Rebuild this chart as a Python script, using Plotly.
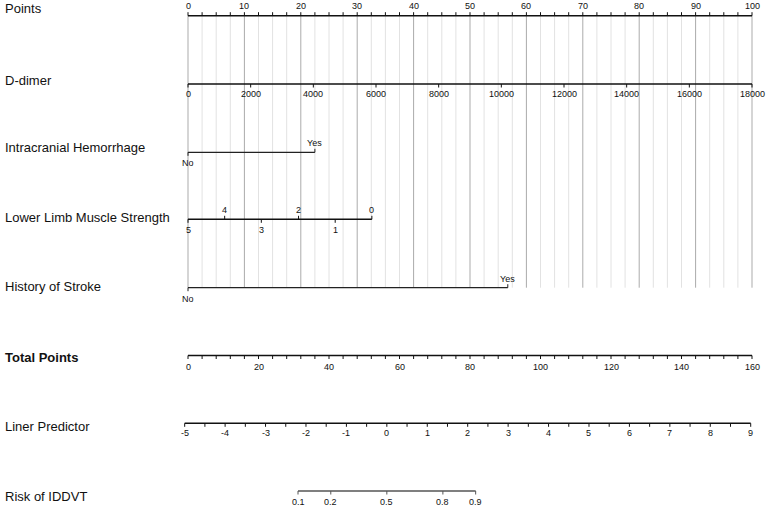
import numpy as np
import plotly.graph_objects as go

# ---------------- data ----------------
points_major = list(range(0, 101, 10))
points_minor = [i * 2.5 for i in range(41)]

ddimer_ticks = list(range(0, 18001, 2000))
ddimer_max = 18000          # value that earns 100 points

ich_levels = ["No", "Yes"]
ich_points = [0.0, 22.5]
ich_side = ["below", "above"]

llms_levels = ["5", "4", "3", "2", "1", "0"]
llms_points = [0.0, 6.5, 13.0, 19.6, 26.1, 32.6]
llms_side = ["below", "above", "below", "above", "below", "above"]

stroke_levels = ["No", "Yes"]
stroke_points = [0.0, 56.7]
stroke_side = ["below", "above"]

total_major = list(range(0, 161, 20))
total_minor = list(range(0, 161, 4))
total_max = 160

lp_major = list(range(-5, 10))
lp_minor = [-5 + 0.5 * i for i in range(29)]
lp_at_total0 = -4.918
lp_at_totalmax = 9.032

risk_ticks = [0.1, 0.2, 0.5, 0.8, 0.9]

row_names = ["Points", "D-dimer", "Intracranial Hemorrhage", "Lower Limb Muscle Strength",
             "History of Stroke", "Total Points", "Liner Predictor", "Risk of IDDVT"]

# ---------------- layout constants ----------------
W, H = 767, 509
PX0, PX100 = 188.0, 752.0
scale = (PX100 - PX0) / 100.0
xr = [(0 - PX0) / scale, (W - PX0) / scale]

ROW = dict(points=15.7, ddimer=84.0, ich=152.3, llms=219.3, stroke=287.7,
           total=355.5, lp=423.3, risk=491.0)
LABEL_Y = [8.5, 80.0, 147.7, 217.7, 286.7, 357.3, 426.7, 496.7]
FONT = "Arial, Liberation Sans, sans-serif"


def total_to_x(t):
    return t * 100.0 / total_max


def lp_to_x(lp):
    t = (lp - lp_at_total0) / (lp_at_totalmax - lp_at_total0) * total_max
    return total_to_x(t)


def logit(p):
    return np.log(p / (1 - p))


fig = go.Figure()
annotations = []


def seg_trace(xs, y0, y1, color, width):
    X, Y = [], []
    for x in xs:
        X += [x, x, None]
        Y += [y0, y1, None]
    fig.add_trace(go.Scatter(x=X, y=Y, mode="lines", line=dict(color=color, width=width),
                             hoverinfo="skip", showlegend=False))


def hline(x0, x1, y, color="#111", width=1.5):
    fig.add_trace(go.Scatter(x=[x0, x1], y=[y, y], mode="lines",
                             line=dict(color=color, width=width),
                             hoverinfo="skip", showlegend=False))


def label(x, y, text, size=9):
    annotations.append(dict(x=x, y=y, xref="x", yref="y", text=text, showarrow=False,
                            xanchor="center", yanchor="middle",
                            font=dict(family=FONT, size=size, color="#111")))


# gridlines
grid_top, grid_bot = ROW["points"], ROW["stroke"]
seg_trace([p for p in points_minor if p % 10 != 0], grid_top, grid_bot, "#e2e2e2", 1)
seg_trace(points_major, grid_top, grid_bot, "#ababab", 1)

# Points axis (ticks up, labels above)
hline(0, 100, ROW["points"])
seg_trace(points_minor, ROW["points"], ROW["points"] - 3.5, "#111", 1)
for p in points_major:
    label(p, ROW["points"] - 10, str(p))

# D-dimer (ticks down, labels below)
dd_x = [v / ddimer_max * 100 for v in ddimer_ticks]
hline(0, 100, ROW["ddimer"])
seg_trace(dd_x, ROW["ddimer"], ROW["ddimer"] + 3.5, "#111", 1)
for v, x in zip(ddimer_ticks, dd_x):
    label(x, ROW["ddimer"] + 10, str(v))


def categorical(levels, pts, sides, y, color="#222", width=1.2):
    hline(min(pts), max(pts), y, color, width)
    for lv, p, s in zip(levels, pts, sides):
        if s == "above":
            seg_trace([p], y, y - 3.5, color, 1)
            label(p, y - 9, lv)
        else:
            seg_trace([p], y, y + 3.5, color, 1)
            label(p, y + 11, lv)


categorical(ich_levels, ich_points, ich_side, ROW["ich"])
categorical(llms_levels, llms_points, llms_side, ROW["llms"], "#111", 1.5)
categorical(stroke_levels, stroke_points, stroke_side, ROW["stroke"])

# Total points
hline(total_to_x(0), total_to_x(total_max), ROW["total"])
seg_trace([total_to_x(t) for t in total_minor], ROW["total"], ROW["total"] + 3.5, "#111", 1)
for t in total_major:
    label(total_to_x(t), ROW["total"] + 11, str(t))

# Linear predictor
hline(lp_to_x(lp_major[0]), lp_to_x(lp_major[-1]), ROW["lp"])
seg_trace([lp_to_x(v) for v in lp_minor], ROW["lp"], ROW["lp"] + 3.5, "#111", 1)
for v in lp_major:
    label(lp_to_x(v), ROW["lp"] + 10, str(v))

# Risk
rx = [lp_to_x(logit(p)) for p in risk_ticks]
hline(min(rx), max(rx), ROW["risk"], "#555", 1.3)
seg_trace(rx, ROW["risk"], ROW["risk"] + 3.5, "#555", 1)
for p, x in zip(risk_ticks, rx):
    label(x, ROW["risk"] + 10.5, str(p))

# row labels
for name, y in zip(row_names, LABEL_Y):
    txt = "<b>%s</b>" % name if name == "Total Points" else name
    annotations.append(dict(x=3 / W, y=y, xref="paper", yref="y", text=txt, showarrow=False,
                            xanchor="left", yanchor="middle",
                            font=dict(family=FONT, size=13, color="#111")))

fig.update_layout(
    width=W, height=H, margin=dict(l=0, r=0, t=0, b=0),
    paper_bgcolor="white", plot_bgcolor="white",
    xaxis=dict(range=xr, visible=False, fixedrange=True),
    yaxis=dict(range=[H, 0], visible=False, fixedrange=True),
    annotations=annotations, showlegend=False,
)
fig.write_html("out.html")
